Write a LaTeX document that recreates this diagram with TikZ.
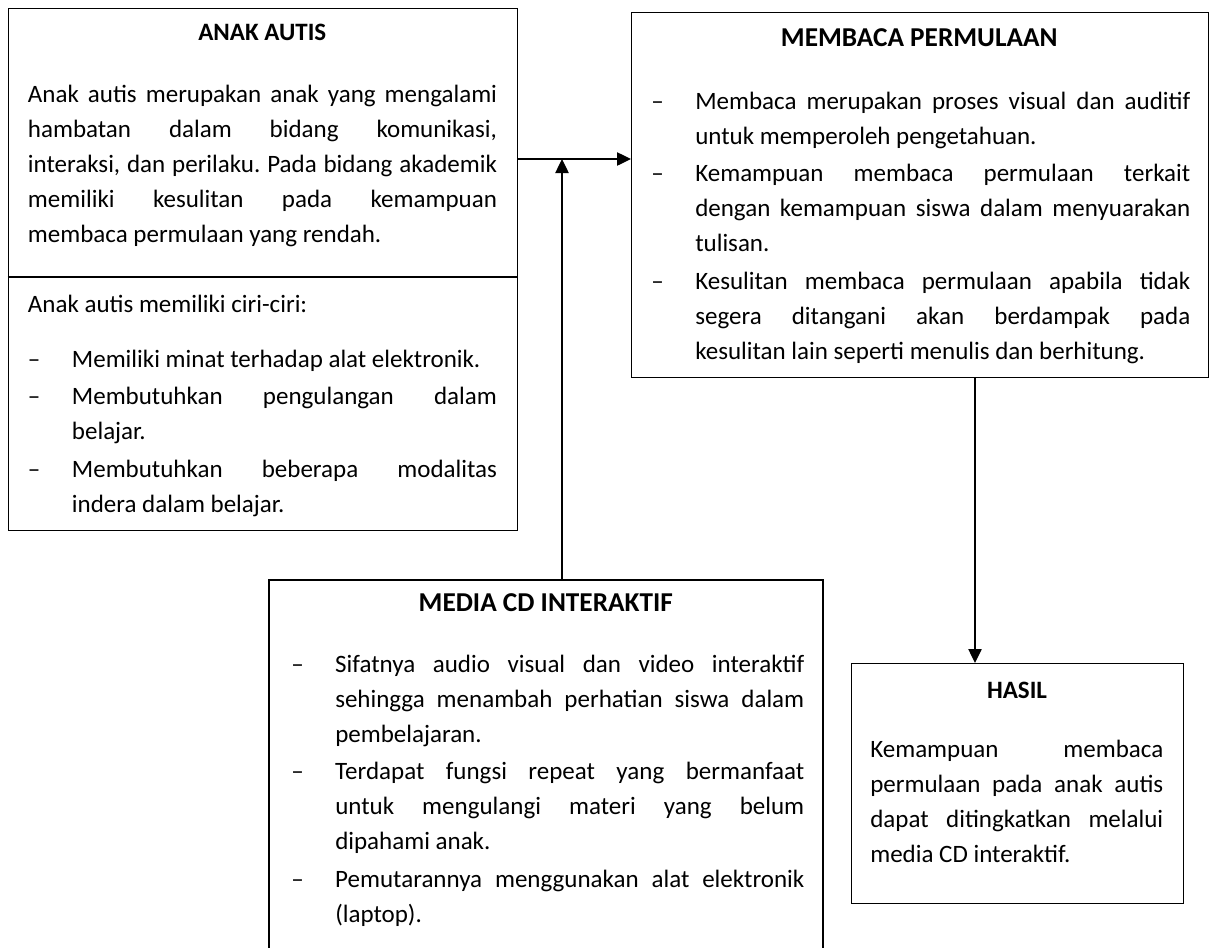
\documentclass[tikz,border=0pt]{standalone}
\usepackage{fontspec}
\setmainfont{Carlito}
\usetikzlibrary{arrows.meta}

\newcommand\bodysize{\fontsize{18.75pt}{26.25pt}\selectfont}
\newcommand\headsize{\fontsize{20.45pt}{26.25pt}\selectfont}
\newcommand\dashitem[1]{\noindent\hangindent=33pt\hangafter=1\makebox[33pt][l]{–}#1\par}
\hbadness=10000
\tolerance=10000
\hyphenpenalty=10000
\exhyphenpenalty=10000
\frenchspacing

\begin{document}
\begin{tikzpicture}[x=0.75pt,y=0.75pt,yscale=-1,xscale=1,
  box/.style={draw, line width=1pt, inner sep=0pt, anchor=north west},
  txt/.style={anchor=base west, inner sep=0pt, align=justify, font=\bodysize},
  ttl/.style={anchor=base, inner sep=0pt, font=\bodysize\bfseries},
  arr/.style={line width=1pt, -{Triangle[length=10.5pt,width=10pt]}}]
\useasboundingbox (0,0) rectangle (1209,947);

%Shape: Rectangle [anak autis]
\node[box, minimum width=382.1pt, minimum height=391.5pt] (anak) at (7.5,8) {};
\coordinate (cut) at (0,277);
\draw[line width=1pt] (anak.west |- cut) -- (anak.east |- cut);
%Shape: Rectangle [membaca permulaan]
\node[box, minimum width=432.4pt, minimum height=273.75pt] (membaca) at (631,12) {};
%Shape: Rectangle [media cd, bottom cut off]
\node[inner sep=0pt, anchor=north west, minimum width=415.1pt, minimum height=275.25pt] (media) at (269,580) {};
\draw[line width=1pt] (media.south west) |- (media.north east) -- (media.south east);
%Shape: Rectangle [hasil]
\node[box, minimum width=249pt, minimum height=180pt] (hasil) at (851,663) {};

%Straight Lines
\coordinate (join) at (562,159);
\coordinate (drop) at (975,0);
\draw[arr] (anak.east |- join) -- (membaca.west |- join);
\draw[arr] (join |- media.north) -- (join);
\draw[arr] (drop |- membaca.south) -- (drop |- hasil.north);

%Text Node [anak autis]
\node[ttl] (anaktitle) at (262.25,40) {ANAK AUTIS};
\node[txt, text width=351.75pt] (anakdesc) at (27.7,102) {Anak autis merupakan anak yang mengalami\linebreak hambatan dalam bidang komunikasi,\linebreak interaksi, dan perilaku. Pada bidang akademik\linebreak memiliki kesulitan pada kemampuan\linebreak membaca permulaan yang rendah.};
\node[txt, text width=351.75pt] (anakciri) at (27.7,312) {\setlength\parskip{2pt}Anak autis memiliki ciri-ciri:\par\vspace{13pt}\dashitem{Memiliki minat terhadap alat elektronik.}\dashitem{Membutuhkan pengulangan dalam\linebreak belajar.}\dashitem{Membutuhkan beberapa modalitas\linebreak indera dalam belajar.}};

%Text Node [membaca permulaan]
\node[ttl, font=\headsize\bfseries] (membacatitle) at (919.25,46) {MEMBACA PERMULAAN};
\node[txt, text width=404.25pt] (membacalist) at (651,109) {\setlength\parskip{2pt}\dashitem{Membaca merupakan proses visual dan auditif\linebreak untuk memperoleh pengetahuan.}\dashitem{Kemampuan membaca permulaan terkait\linebreak dengan kemampuan siswa dalam menyuarakan\linebreak tulisan.}\dashitem{Kesulitan membaca permulaan apabila tidak\linebreak segera ditangani akan berdampak pada\linebreak kesulitan lain seperti menulis dan berhitung.}};

%Text Node [media cd interaktif]
\node[ttl, font=\headsize\bfseries] (mediatitle) at (545.75,611) {MEDIA CD INTERAKTIF};
\node[txt, text width=384.75pt] (medialist) at (291,672) {\setlength\parskip{2pt}\dashitem{Sifatnya audio visual dan video interaktif\linebreak sehingga menambah perhatian siswa dalam\linebreak pembelajaran.}\dashitem{Terdapat fungsi repeat yang bermanfaat\linebreak untuk mengulangi materi yang belum\linebreak dipahami anak.}\dashitem{Pemutarannya menggunakan alat elektronik\linebreak (laptop).}};

%Text Node [hasil]
\node[ttl] (hasiltitle) at (1017,698) {HASIL};
\node[txt, text width=219.75pt] (hasildesc) at (870,757) {Kemampuan membaca\linebreak permulaan pada anak autis\linebreak dapat ditingkatkan melalui\linebreak media CD interaktif.};
\end{tikzpicture}
\end{document}
